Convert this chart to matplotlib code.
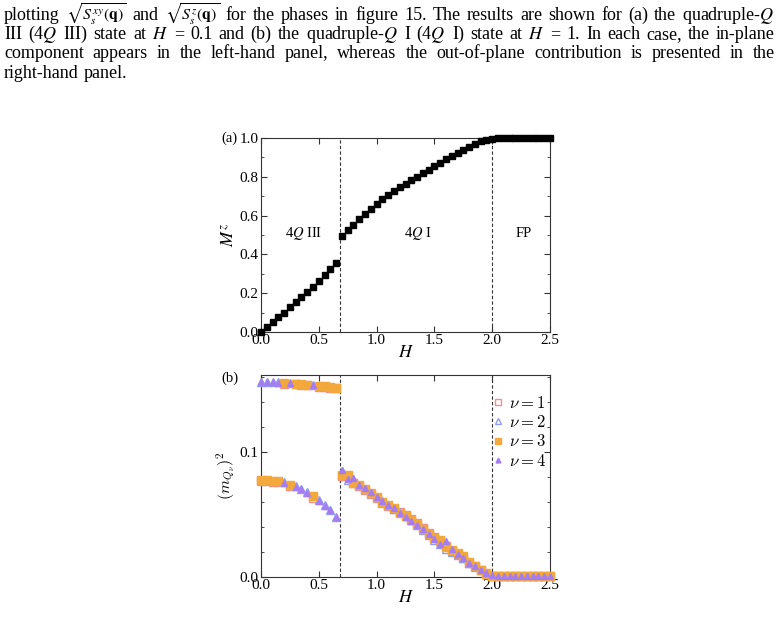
import numpy as np
import matplotlib
matplotlib.use('Agg')
import matplotlib.pyplot as plt
from matplotlib.font_manager import FontProperties
from matplotlib.ticker import MultipleLocator

plt.rcParams['font.family'] = 'serif'
plt.rcParams['font.serif'] = ['Liberation Serif', 'DejaVu Serif']
plt.rcParams['mathtext.fontset'] = 'stix'

# field values (same grid for both panels)
H = [0.00, 0.05, 0.10, 0.15, 0.20, 0.25, 0.30, 0.35, 0.40, 0.45, 0.50, 0.55, 0.60, 0.65,
     0.70, 0.75, 0.80, 0.85, 0.90, 0.95, 1.00, 1.05, 1.10, 1.15, 1.20, 1.25, 1.30, 1.35,
     1.40, 1.45, 1.50, 1.55, 1.60, 1.65, 1.70, 1.75, 1.80, 1.85, 1.90, 1.95, 2.00,
     2.05, 2.10, 2.15, 2.20, 2.25, 2.30, 2.35, 2.40, 2.45, 2.50]

# (a) magnetisation
Mz = [0.000, 0.024, 0.050, 0.076, 0.100, 0.129, 0.153, 0.180, 0.204, 0.232, 0.261, 0.292, 0.323, 0.354,
      0.497, 0.524, 0.553, 0.582, 0.610, 0.636, 0.660, 0.684, 0.706, 0.725, 0.746, 0.765, 0.782, 0.800,
      0.818, 0.837, 0.854, 0.871, 0.890, 0.907, 0.924, 0.940, 0.955, 0.971, 0.983, 0.991, 0.997,
      1.0, 1.0, 1.0, 1.0, 1.0, 1.0, 1.0, 1.0, 1.0, 1.0]

# (b) squared order parameters, nu = 1..4
m_nu1 = [0.0765, 0.0768, 0.0762, 0.0758, 0.1545, 0.0728, 0.1540, 0.1535, 0.1532, 0.0635, 0.1522, 0.1517, 0.1512, 0.1508,
         0.0810, 0.0805, 0.0748, 0.0728, 0.0695, 0.0665, 0.0632, 0.0595, 0.0570, 0.0545, 0.0520, 0.0495, 0.0462, 0.0428,
         0.0390, 0.0350, 0.0320, 0.0285, 0.0250, 0.0208, 0.0185, 0.0155, 0.0115, 0.0085, 0.0058, 0.0030, 0.0006,
         0.0005, 0.0005, 0.0005, 0.0005, 0.0005, 0.0005, 0.0005, 0.0005, 0.0005, 0.0005]
m_nu2 = [0.1559, 0.1558, 0.1557, 0.1556, 0.0758, 0.1552, 0.0725, 0.0703, 0.0678, 0.1537, 0.0613, 0.0573, 0.0538, 0.0483,
         0.0845, 0.0775, 0.0785, 0.0732, 0.0702, 0.0670, 0.0638, 0.0605, 0.0572, 0.0545, 0.0518, 0.0490, 0.0452, 0.0415,
         0.0372, 0.0335, 0.0295, 0.0265, 0.0225, 0.0200, 0.0178, 0.0148, 0.0112, 0.0082, 0.0052, 0.0025, 0.0010,
         0.0008, 0.0008, 0.0008, 0.0008, 0.0008, 0.0008, 0.0008, 0.0008, 0.0008, 0.0008]
m_nu3 = [0.0775, 0.0775, 0.0770, 0.0765, 0.1553, 0.0735, 0.1547, 0.1543, 0.1539, 0.0645, 0.1530, 0.1525, 0.1519, 0.1514,
         0.0818, 0.0815, 0.0755, 0.0735, 0.0700, 0.0672, 0.0640, 0.0600, 0.0578, 0.0552, 0.0512, 0.0488, 0.0455, 0.0420,
         0.0385, 0.0345, 0.0315, 0.0295, 0.0240, 0.0215, 0.0195, 0.0165, 0.0120, 0.0090, 0.0055, 0.0025, 0.0008,
         0.0008, 0.0008, 0.0008, 0.0008, 0.0008, 0.0008, 0.0008, 0.0008, 0.0008, 0.0008]
m_nu4 = [0.1557, 0.1557, 0.1556, 0.1555, 0.0755, 0.1550, 0.0720, 0.0700, 0.0675, 0.1535, 0.0610, 0.0570, 0.0535, 0.0480,
         0.0856, 0.0785, 0.0795, 0.0738, 0.0708, 0.0678, 0.0642, 0.0610, 0.0575, 0.0548, 0.0515, 0.0482, 0.0450, 0.0418,
         0.0380, 0.0340, 0.0300, 0.0260, 0.0285, 0.0220, 0.0180, 0.0150, 0.0115, 0.0085, 0.0058, 0.0028, 0.0012,
         0.0010, 0.0010, 0.0010, 0.0010, 0.0010, 0.0010, 0.0010, 0.0010, 0.0010, 0.0010]

phase_bounds = [0.683, 2.0]

# page text above the figure
text_lines = [
    r'plotting $\sqrt{S_s^{xy}(\mathbf{q})}$ and $\sqrt{S_s^{z}(\mathbf{q})}$ for the phases in figure 15. The results are shown for (a) the quadruple-$Q$',
    r'III (4$Q$ III) state at $H$ = 0.1 and (b) the quadruple-$Q$ I (4$Q$ I) state at $H$ = 1. In each case, the in-plane',
    r'component appears in the left-hand panel, whereas the out-of-plane contribution is presented in the',
    r'right-hand panel.',
]

W, Hpx = 778, 631
fig = plt.figure(figsize=(W / 100, Hpx / 100), dpi=100)


def justify_line(line, y_px, fs, last=False, x0=4, x1=775):
    words = line.split(' ')
    texts = []
    for w in words:
        size = fs - 1.5 if w.startswith(r'$\sqrt') else fs
        texts.append(fig.text(0, 1 - y_px / Hpx, w, fontsize=size, va='baseline', ha='left'))
    r = fig.canvas.get_renderer()
    widths = [t.get_window_extent(r).width for t in texts]
    if last:
        gap = fs * 0.25 * 100 / 72
    else:
        gap = (x1 - x0 - sum(widths)) / (len(words) - 1)
    x = x0
    for t, w in zip(texts, widths):
        t.set_x(x / W)
        x += w + gap


for i, line in enumerate(text_lines):
    justify_line(line, 20 + 19.2 * i, 13, last=(i == len(text_lines) - 1))

tick_kw = dict(direction='in', top=True, right=True, labelsize=11,
               color='#333333', width=0.8)

# ---- panel (a)
ax1 = fig.add_axes([261 / W, 1 - 332 / Hpx, 289 / W, 194 / Hpx])
ax1.plot(H, Mz, ls='none', marker='s', ms=4.9, color='black', clip_on=False, zorder=3)
for b in phase_bounds:
    ax1.axvline(b, color='#333333', lw=0.8, ls=(0, (3, 2)), zorder=1)
ax1.set_xlim(0, 2.5)
ax1.set_ylim(0, 1.0)
ax1.xaxis.set_major_locator(MultipleLocator(0.5))
ax1.yaxis.set_major_locator(MultipleLocator(0.2))
ax1.yaxis.set_minor_locator(MultipleLocator(0.1))
ax1.tick_params(which='major', length=4, **tick_kw)
ax1.tick_params(axis='x', pad=1.5)
ax1.tick_params(axis='y', pad=2)
ax1.tick_params(which='minor', length=2, direction='in', right=True, color='#333333', width=0.6)
ax1.set_xlabel('$H$', fontsize=13, labelpad=-2)
ax1.set_ylabel('$M^z$', fontsize=13, labelpad=1)
ax1.text(0.37, 0.51, '4$Q$ III', fontsize=10.5, ha='center', va='center')
ax1.text(1.36, 0.51, '4$Q$ I', fontsize=10.5, ha='center', va='center')
ax1.text(2.27, 0.51, 'FP', fontsize=10.5, ha='center', va='center')
ax1.text(-0.27, 1.0, '(a)', fontsize=10.5, ha='center', va='center')
for s in ax1.spines.values():
    s.set_color('#333333')
    s.set_linewidth(0.8)

# ---- panel (b)
ax2 = fig.add_axes([261 / W, 1 - 577 / Hpx, 289 / W, 202 / Hpx])
ax2.plot(H, m_nu1, ls='none', marker='s', ms=6.2, mfc='none', mec='#f28e8e', mew=1.0,
         clip_on=False, zorder=3, label=r'$\nu=1$')
ax2.plot(H, m_nu2, ls='none', marker='^', ms=5.6, mfc='none', mec='#8f9ef2', mew=1.0,
         clip_on=False, zorder=3, label=r'$\nu=2$')
ax2.plot(H, m_nu3, ls='none', marker='s', ms=6.0, color='#f2a83a', mec='#f2a83a',
         clip_on=False, zorder=4, label=r'$\nu=3$')
ax2.plot(H, m_nu4, ls='none', marker='^', ms=5.0, color='#a57df0', mec='#a57df0',
         clip_on=False, zorder=5, label=r'$\nu=4$')
for b in phase_bounds:
    ax2.axvline(b, color='#333333', lw=0.8, ls=(0, (3, 2)), zorder=1)
ax2.set_xlim(0, 2.5)
ax2.set_ylim(0, 0.1615)
ax2.xaxis.set_major_locator(MultipleLocator(0.5))
ax2.yaxis.set_major_locator(MultipleLocator(0.1))
ax2.yaxis.set_minor_locator(MultipleLocator(0.02))
ax2.tick_params(which='major', length=4, **tick_kw)
ax2.tick_params(axis='x', pad=1.5)
ax2.tick_params(axis='y', pad=2)
ax2.tick_params(which='minor', length=2, direction='in', right=True, color='#333333', width=0.6)
ax2.set_xlabel('$H$', fontsize=13, labelpad=-2)
ylab = ax2.set_ylabel(r'$(m_{Q_\nu})^2$', fontsize=11.5, labelpad=1)
ylab.set_math_fontfamily('cm')
ax2.text(-0.27, 0.1585, '(b)', fontsize=10.5, ha='center', va='center')
leg_font = FontProperties(family='serif', size=12, math_fontfamily='cm')
ax2.legend(loc='upper right', frameon=False, prop=leg_font, markerscale=0.7,
           handlelength=0.8, handletextpad=0.3, labelspacing=0.2,
           borderaxespad=0.0, bbox_to_anchor=(1.01, 0.93))
for s in ax2.spines.values():
    s.set_color('#333333')
    s.set_linewidth(0.8)

fig.savefig('out.png', dpi=100)
